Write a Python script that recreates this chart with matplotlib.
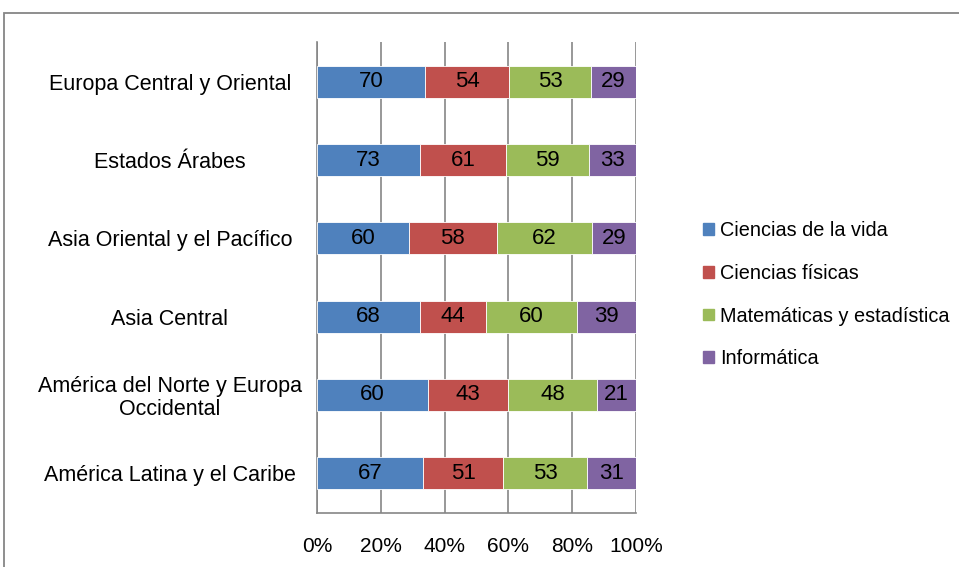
import numpy as np
import matplotlib.pyplot as plt
from matplotlib.patches import Rectangle, Patch

plt.rcParams['font.family'] = ['Liberation Sans Narrow', 'Liberation Sans', 'DejaVu Sans']

regiones = ['Europa Central y Oriental', 'Estados Árabes', 'Asia Oriental y el Pacífico',
            'Asia Central', 'América del Norte y Europa\nOccidental', 'América Latina y el Caribe']
series = ['Ciencias de la vida', 'Ciencias físicas', 'Matemáticas y estadística', 'Informática']
vida = [70, 73, 60, 68, 60, 67]
fisicas = [54, 61, 58, 44, 43, 51]
mate = [53, 59, 62, 60, 48, 53]
info = [29, 33, 29, 39, 21, 31]
colores = ['#4F81BD', '#C0504D', '#9BBB59', '#8064A2']
ticks = ['0%', '20%', '40%', '60%', '80%', '100%']

datos = np.array([vida, fisicas, mate, info], dtype=float)
totales = datos.sum(axis=0)
pct = datos / totales * 100

fig = plt.figure(figsize=(9.59, 5.67), dpi=100)
fig.patches.append(Rectangle((4 / 959, -0.1), 1.1, 1 - 13 / 567 + 0.1, transform=fig.transFigure,
                             fill=False, edgecolor='#868686', linewidth=1.3))

ax = fig.add_axes([317 / 959, 1 - 513 / 567, (636 - 317) / 959, (513 - 42) / 567])
y = np.arange(len(regiones))[::-1]
izq = np.zeros(len(regiones))
for k in range(4):
    ax.barh(y, pct[k], left=izq, height=0.41, color=colores[k], edgecolor='white',
            linewidth=0.6, label=series[k], zorder=3)
    for i in range(len(regiones)):
        ax.text(izq[i] + pct[k][i] / 2, y[i], str(int(datos[k][i])), ha='center', va='center',
                fontsize=16, color='black', zorder=4)
    izq += pct[k]

ax.set_xlim(0, 100)
ax.set_ylim(-0.51, 5.51)
ax.set_xticks(np.arange(0, 101, 20))
ax.set_xticklabels(ticks, fontsize=15)
ax.set_yticks(y)
ax.set_yticklabels(regiones, fontsize=15.5, ha='center', linespacing=1.1)
ax.tick_params(axis='y', length=0, pad=106)
ax.tick_params(axis='x', length=0, pad=17.5)
ax.grid(axis='x', color='#868686', linewidth=1.2, zorder=0)
for s in ['top', 'right']:
    ax.spines[s].set_visible(False)
for s in ['left', 'bottom']:
    ax.spines[s].set_color('#868686')
    ax.spines[s].set_linewidth(1.2)

handles = [Patch(color=c) for c in colores]
fig.legend(handles, series, loc='upper left', bbox_to_anchor=(685 / 959, 1 - 203 / 567),
           frameon=False, fontsize=14.3, handlelength=0.55, handleheight=0.55,
           handletextpad=0.3, labelspacing=1.2)

fig.savefig('out.png', dpi=100)
